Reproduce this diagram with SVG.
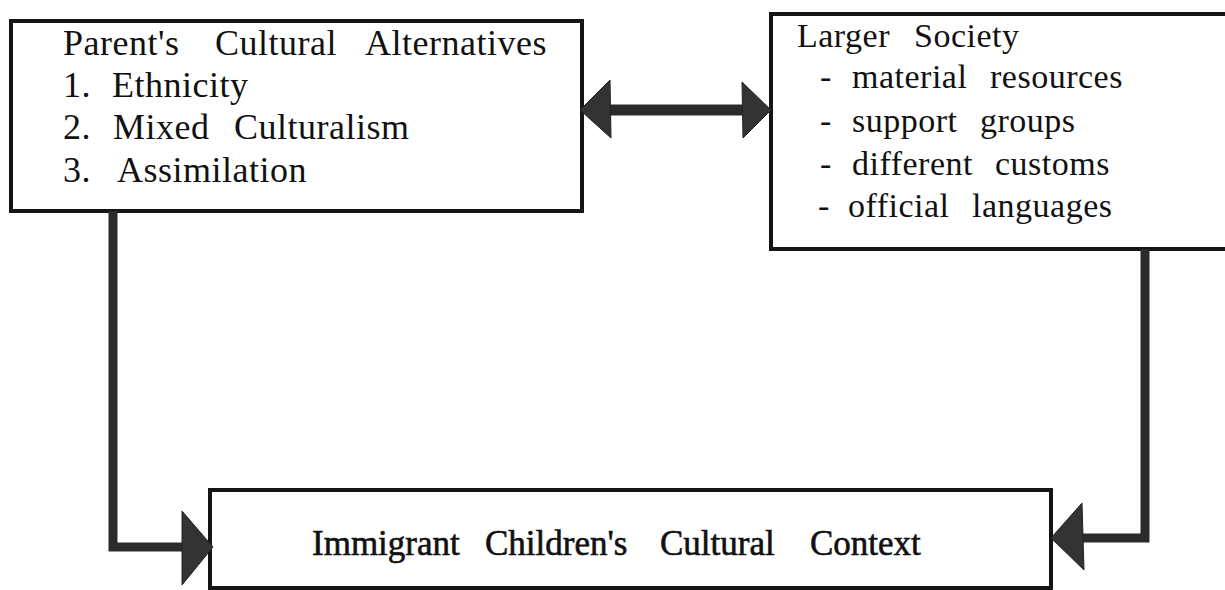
<svg xmlns="http://www.w3.org/2000/svg" width="1225" height="590" viewBox="0 0 1225 590">
<style>
.box{fill:#fff;stroke:#151515;stroke-width:4}
.t{font-family:"Liberation Serif","Times New Roman",serif;font-size:36px;fill:#111;letter-spacing:0.5px}
.r{font-family:"Liberation Serif","Times New Roman",serif;font-size:34px;fill:#111;letter-spacing:0.5px}
.tb{font-family:"Liberation Serif","Times New Roman",serif;font-size:35px;fill:#111;stroke:#111;stroke-width:0.6}
.conn{fill:none;stroke:#2b2b2b;stroke-width:9}
.shaft{fill:none;stroke:#2b2b2b;stroke-width:11}
.head{fill:#333;stroke:#222;stroke-width:1}
</style>
<rect width="1225" height="590" fill="#fff"/>
<g id="parent">
<rect class="box" x="11" y="21" width="571" height="190"/>
<text class="t" y="55"><tspan x="63">Parent's</tspan><tspan x="215">Cultural</tspan><tspan x="365">Alternatives</tspan></text>
<text class="t" y="97"><tspan x="63">1.</tspan><tspan x="112">Ethnicity</tspan></text>
<text class="t" y="139"><tspan x="63">2.</tspan><tspan x="113">Mixed</tspan><tspan x="234">Culturalism</tspan></text>
<text class="t" y="182"><tspan x="63">3.</tspan><tspan x="117">Assimilation</tspan></text>
</g>
<g id="society">
<rect class="box" x="771" y="14" width="470" height="235"/>
<text class="r" y="47"><tspan x="797">Larger</tspan><tspan x="914">Society</tspan></text>
<text class="r" y="88"><tspan x="820">-</tspan><tspan x="852">material</tspan><tspan x="990">resources</tspan></text>
<text class="r" y="132"><tspan x="820">-</tspan><tspan x="852">support</tspan><tspan x="980">groups</tspan></text>
<text class="r" y="175"><tspan x="820">-</tspan><tspan x="852">different</tspan><tspan x="995">customs</tspan></text>
<text class="r" y="217"><tspan x="818">-</tspan><tspan x="848">official</tspan><tspan x="972">languages</tspan></text>
</g>
<g id="children">
<rect class="box" x="210" y="490" width="841" height="98"/>
<text class="tb" y="555"><tspan x="312">Immigrant</tspan><tspan x="485">Children's</tspan><tspan x="660">Cultural</tspan><tspan x="810">Context</tspan></text>
</g>
<g id="connectors">
<path class="shaft" d="M606,110 H746"/>
<polygon class="head" points="580,110 610,80 611,138"/>
<polygon class="head" points="771,110 742,82 743,138"/>
<path class="conn" d="M113,211 V547 H186"/>
<polygon class="head" points="213,547 182,511 182,585"/>
<path class="conn" d="M1145,249 V538 H1078"/>
<polygon class="head" points="1051,538 1082,503 1084,570"/>
</g>
</svg>
